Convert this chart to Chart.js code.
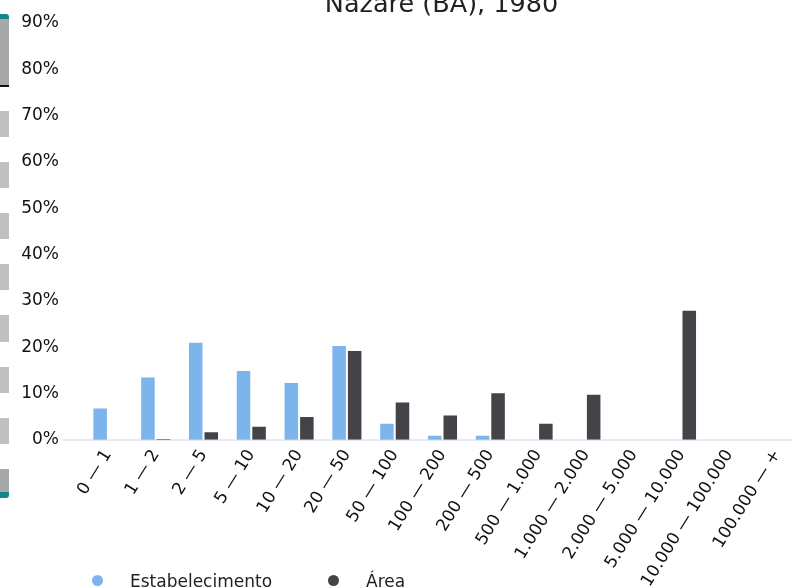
<!DOCTYPE html>
<html>
<head>
<meta charset="utf-8">
<script src="https://cdn.jsdelivr.net/npm/chart.js@4.4.0/dist/chart.umd.min.js"></script>
<style>
html, body { margin: 0; padding: 0; width: 792px; height: 587px; overflow: hidden; background: #fff; }
body { position: relative; font-family: "DejaVu Sans", sans-serif; }
#wrap { position: absolute; left: 0; top: -20px; width: 883px; height: 620px; }
#legend { position: absolute; left: 92px; top: 571px; display: flex; align-items: flex-start;
  font: 17px "DejaVu Sans", sans-serif; line-height: 20px; color: #222; white-space: nowrap; }
#legend .item { display: flex; align-items: flex-start; margin-right: 56px; }
#legend .dot { width: 11px; height: 11px; border-radius: 50%; margin-top: 3.5px; margin-right: 27px; }
/* navigator-like strip on the left edge */
.strip { position: absolute; left: 0; width: 9px; }
#stripTop { top: 14px; background: #a8a8a8; border-top: 5px solid #138787; border-bottom: 2px solid #111;
  border-top-right-radius: 3px; box-sizing: border-box; height: 73px; }
#stripMid { top: 86px; height: 383px;
  background: repeating-linear-gradient(to bottom, transparent 0, transparent 25px, #c0c0c0 25px, #c0c0c0 51.1px); }
#stripBot { top: 469px; height: 29px; background: #a8a8a8; border-bottom: 6px solid #138787;
  border-bottom-right-radius: 3px; box-sizing: border-box; }
</style>
</head>
<body>
<div class="strip" id="stripTop"></div>
<div class="strip" id="stripMid"></div>
<div class="strip" id="stripBot"></div>
<div id="wrap"><canvas id="chart"></canvas></div>
<div id="legend"></div>
<script>
const title = 'Nazaré (BA), 1980';
const categories = ['0 — 1', '1 — 2', '2 — 5', '5 — 10', '10 — 20', '20 — 50', '50 — 100', '100 — 200',
  '200 — 500', '500 — 1.000', '1.000 — 2.000', '2.000 — 5.000', '5.000 — 10.000', '10.000 — 100.000', '100.000 — +'];
const estabelecimento = [7.0, 13.7, 21.2, 15.1, 12.5, 20.5, 3.7, 1.15, 1.15, 0, 0, 0, 0, 0, 0];
const area = [0, 0.4, 1.9, 3.1, 5.2, 19.4, 8.3, 5.5, 10.3, 3.7, 10.0, 0, 28.1, 0, 0];
const yTicks = [0, 10, 20, 30, 40, 50, 60, 70, 80, 90];

const fontFamily = '"DejaVu Sans", sans-serif';

// light base line under the columns, runs a bit left of the plot like the original
const axisLine = {
  id: 'axisLine',
  afterDatasetsDraw(chart){
    const ctx = chart.ctx;
    const y = chart.scales.x.top;
    ctx.save();
    ctx.strokeStyle = '#ccd6eb';
    ctx.lineWidth = 1;
    ctx.beginPath();
    ctx.moveTo(chart.scales.y.right - 21, y);
    ctx.lineTo(chart.width, y);
    ctx.stroke();
    ctx.restore();
  }
};

const ctx = document.getElementById('chart');
const myChart = new Chart(ctx, {
  type: 'bar',
  plugins: [axisLine],
  data: {
    labels: categories,
    datasets: [{
      label: 'Estabelecimento',
      data: estabelecimento,
      backgroundColor: '#7cb5ec',
      borderColor: '#ffffff',
      borderWidth: 1,
      categoryPercentage: 0.65,
      barPercentage: 1.0
    },{
      label: 'Área',
      data: area,
      backgroundColor: '#434348',
      borderColor: '#ffffff',
      borderWidth: 1,
      categoryPercentage: 0.65,
      barPercentage: 1.0
    }]
  },
  options: {
    animation: false,
    responsive: true,
    maintainAspectRatio: false,
    layout: {
      padding: 0
    },
    plugins: {
      legend: { display: false },
      tooltip: { enabled: false },
      title: {
        display: true,
        text: title,
        color: '#222',
        font: { family: fontFamily, size: 25.5, weight: 'normal' },
        padding: { top: 10, bottom: 2.4 }
      }
    },
    scales: {
      x: {
        grid: { display: false, drawTicks: false },
        border: { display: false },
        ticks: {
          color: '#111',
          font: { family: fontFamily, size: 17 },
          maxRotation: 58,
          minRotation: 58,
          autoSkip: false,
          padding: 6
        },
        afterFit: function(scale){ scale.height = 160; }
      },
      y: {
        min: 0,
        max: 90,
        grid: { display: false, drawTicks: false },
        border: { display: false },
        afterBuildTicks: function(scale){ scale.ticks = yTicks.map(v => ({value: v})); },
        ticks: {
          color: '#111',
          font: { family: fontFamily, size: 17 },
          padding: 25,
          callback: v => v + '%'
        },
        afterFit: function(scale){ scale.width = 84; }
      },
      // empty right-hand gutter so the title stays centred on the full width
      gutter: {
        type: 'linear',
        position: 'right',
        grid: { display: false, drawTicks: false },
        border: { display: false },
        ticks: { display: false },
        afterFit: function(scale){ scale.width = 82; }
      }
    }
  }
});

// html legend, built from the datasets
const legend = document.getElementById('legend');
myChart.data.datasets.forEach(function(ds){
  const item = document.createElement('div');
  item.className = 'item';
  const dot = document.createElement('span');
  dot.className = 'dot';
  dot.style.background = ds.backgroundColor;
  const txt = document.createElement('span');
  txt.textContent = ds.label;
  item.appendChild(dot);
  item.appendChild(txt);
  legend.appendChild(item);
});
</script>
</body>
</html>
